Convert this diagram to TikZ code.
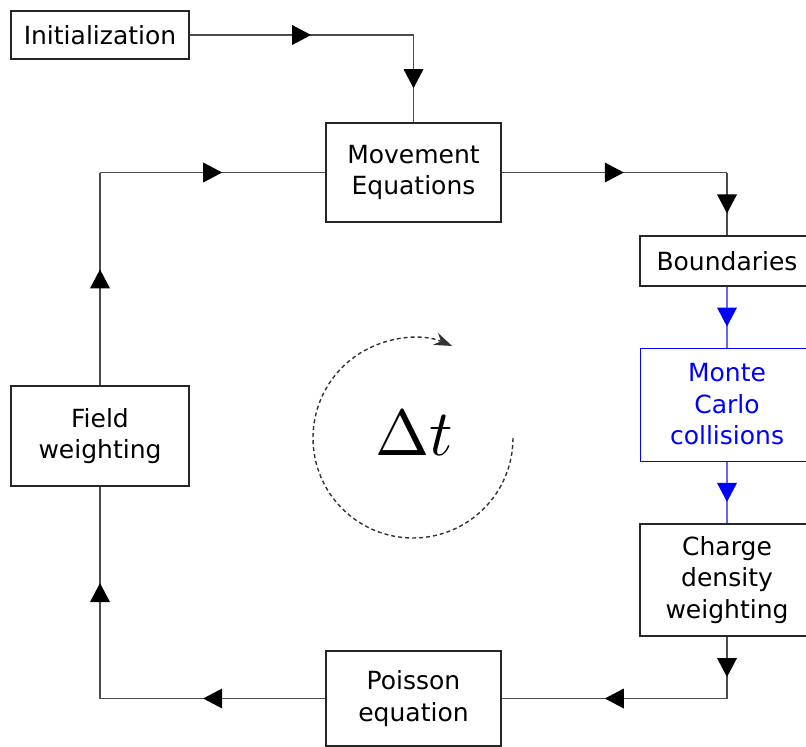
\documentclass[tikz,border=0pt]{standalone}
\usepackage{fontspec}
\setmainfont{DejaVu Sans}
\usetikzlibrary{arrows.meta,decorations.markings}
\tikzset{
  stage/.style={draw=black!85, line width=1.3pt, align=center, inner sep=0pt,
    font=\fontsize{25}{31.5}\selectfont},
  link/.style={draw=black!70, line width=1.6pt},
  midarrow/.style={postaction={decorate}, decoration={markings,
    mark=at position 0.5 with {\fill (-9.5pt,-10pt) -- (9.5pt,0pt) -- (-9.5pt,10pt) -- cycle;}}},
}
\begin{document}
\begin{tikzpicture}[x=1pt,y=1pt]
  \useasboundingbox (0,0) rectangle (806,-747);
  \clip (0,0) rectangle (806,-747);
  % blocks
  \node[stage, minimum width=178, minimum height=48] (init) at (100,-35) {Initialization};
  \node[stage, minimum width=175, minimum height=99] (move) at (413.5,-172.5) {Movement\\Equations};
  \node[stage, minimum width=174, minimum height=50] (bound) at (727,-261) {Boundaries};
  \node[stage, draw=blue, text=blue, line width=1pt, minimum width=174, minimum height=113] (mcc) at (727,-404.5) {Monte\\Carlo\\collisions};
  \node[stage, minimum width=174, minimum height=112] (charge) at (727,-580) {Charge\\density\\weighting};
  \node[stage, minimum width=175, minimum height=95] (poisson) at (413.5,-698.5) {Poisson\\equation};
  \node[stage, minimum width=178, minimum height=100] (field) at (100,-436) {Field\\weighting};
  % corners
  \coordinate (c1) at (413.5,-35);
  \coordinate (c2) at (727,-172.5);
  \coordinate (c3) at (727,-698.5);
  \coordinate (c4) at (100,-698.5);
  \coordinate (c5) at (100,-172.5);
  % loop
  \draw[link, midarrow] (init.east) -- (c1);
  \draw[link, midarrow] (c1) -- (move.north);
  \draw[link, midarrow] (move.east) -- (c2);
  \draw[link, midarrow] (c2) -- (bound.north);
  \draw[link, midarrow, blue!60, fill=blue] (bound.south) -- (mcc.north);
  \draw[link, midarrow, blue!60, fill=blue] (mcc.south) -- (charge.north);
  \draw[link, midarrow] (charge.south) -- (c3);
  \draw[link, midarrow] (c3) -- (poisson.east);
  \draw[link, midarrow] (poisson.west) -- (c4);
  \draw[link, midarrow] (c4) -- (field.south);
  \draw[link, midarrow] (field.north) -- (c5);
  \draw[link, midarrow] (c5) -- (move.west);
  % time step
  \node[scale=6.5] (dt) at (414,-433) {$\Delta t$};
  \draw[black!80, line width=1.4pt, dash pattern=on 4pt off 3pt, -{Stealth[length=18pt,width=13pt]}]
    (513,-438) arc[start angle=0, end angle=-293, radius=100pt];
\end{tikzpicture}
\end{document}
